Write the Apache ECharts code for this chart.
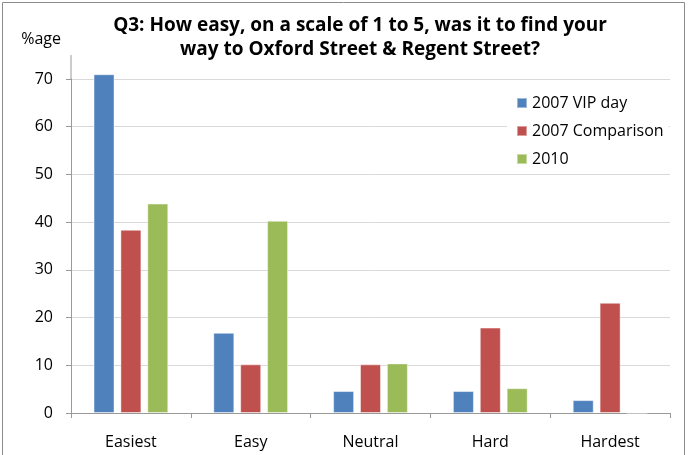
<!DOCTYPE html>
<html>
<head>
<meta charset="utf-8">
<script src="https://cdn.jsdelivr.net/npm/echarts@6/dist/echarts.min.js"></script>
<style>
  html, body { margin: 0; padding: 0; background: #fff; }
  #chart { width: 689px; height: 455px; }
</style>
</head>
<body>
<div id="chart"></div>
<script>
// categories and series
var categories = ['Easiest', 'Easy', 'Neutral', 'Hard', 'Hardest'];
var vip2007 = [71, 16.8, 4.6, 4.6, 2.7];
var comparison2007 = [38.4, 10.2, 10.2, 17.9, 23.1];
var y2010 = [43.9, 40.3, 10.4, 5.2, 0];
var seriesNames = ['2007 VIP day', '2007 Comparison', '2010'];
var colours = ['#4F81BD', '#C0504D', '#9BBB59'];

var font = '"Open Sans", sans-serif';
var myChart = echarts.init(document.getElementById('chart'));

function bar(name, data, colour) {
  return {
    name: name,
    type: 'bar',
    data: data,
    barWidth: 21,
    barGap: '28%',
    clip: false,   // the 71 bar pokes above the 70 line, like the original
    itemStyle: {
      color: colour,
      borderColor: 'rgba(255,255,255,0.45)',
      borderWidth: 1
    }
  };
}

myChart.setOption({
  animation: false,
  textStyle: { fontFamily: font },
  title: {
    text: 'Q3: How easy, on a scale of 1 to 5, was it to find your\nway to Oxford Street & Regent Street?',
    left: 355,
    top: 9,
    textAlign: 'center',
    textStyle: { fontFamily: font, fontSize: 19, fontWeight: 'bold', color: '#000', lineHeight: 24 }
  },
  legend: {
    orient: 'vertical',
    left: 507,
    top: 90,
    padding: [5, 5, 5, 9],
    backgroundColor: '#fff',
    itemWidth: 10,
    itemHeight: 10,
    itemGap: 12,
    icon: 'rect',
    textStyle: { fontFamily: font, fontSize: 16, color: '#000', lineHeight: 16 },
    data: seriesNames
  },
  grid: { left: 71, right: 19, top: 79, bottom: 42, containLabel: false },
  xAxis: {
    type: 'category',
    data: categories,
    axisLine: { lineStyle: { color: '#999' } },
    axisTick: { show: true, length: 5, lineStyle: { color: '#999' } },
    axisLabel: { fontFamily: font, fontSize: 16, color: '#000', margin: 21 }
  },
  yAxis: {
    type: 'value',
    name: '%age',
    nameLocation: 'end',
    nameGap: 32,
    nameTextStyle: { fontFamily: font, fontSize: 16, color: '#000', align: 'right', padding: [0, 10, 0, 0] },
    min: 0,
    max: 70,
    interval: 10,
    axisLine: { show: true, lineStyle: { color: '#999' } },
    axisTick: { show: true, length: 5, lineStyle: { color: '#999' } },
    axisLabel: { fontFamily: font, fontSize: 16, color: '#000', margin: 18 },
    splitLine: { lineStyle: { color: '#d9d9d9' } }
  },
  graphic: [
    { type: 'rect', shape: { x: 2.5, y: 2.5, width: 682, height: 470 }, style: { fill: null, stroke: '#8c8c8c', lineWidth: 1 }, silent: true },
    { type: 'line', shape: { x1: 71, y1: 55, x2: 71, y2: 79 }, style: { stroke: '#999', lineWidth: 1 }, silent: true }
  ],
  series: [
    bar(seriesNames[0], vip2007, colours[0]),
    bar(seriesNames[1], comparison2007, colours[1]),
    bar(seriesNames[2], y2010, colours[2])
  ]
});
</script>
</body>
</html>
